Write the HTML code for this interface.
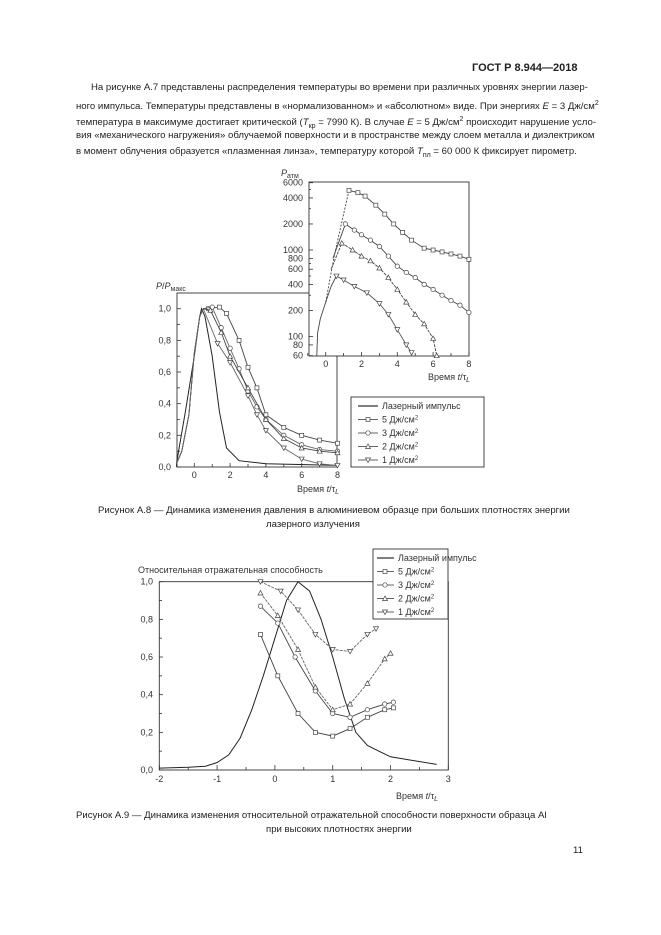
<!DOCTYPE html>
<html><head><meta charset="utf-8">
<style>
body{margin:0;background:#fff;}
#pg{position:relative;width:661px;height:935px;background:#fff;font-family:"Liberation Sans",sans-serif;color:#222;}
.t{position:absolute;font-size:9.6px;line-height:16px;white-space:nowrap;}
svg{position:absolute;left:0;top:0;}
svg text{font-family:"Liberation Sans",sans-serif;font-size:9px;fill:#333;}
</style></head><body><div id="pg">
<div class="t" style="left:472px;top:60px;font-size:11px;font-weight:bold;">ГОСТ Р 8.944—2018</div>
<div class="t" style="left:91px;top:80px;">На рисунке А.7 представлены распределения температуры во времени при различных уровнях энергии лазер-</div>
<div class="t" style="left:76px;top:96px;">ного импульса. Температуры представлены в «нормализованном» и «абсолютном» виде. При энергиях <i>E</i> = 3 Дж/см<sup style="font-size:7px">2</sup></div>
<div class="t" style="left:76px;top:112px;">температура в максимуме достигает критической (<i>T</i><sub style="font-size:7px">кр</sub> = 7990 К). В случае <i>E</i> = 5 Дж/см<sup style="font-size:7px">2</sup> происходит нарушение усло-</div>
<div class="t" style="left:76px;top:128px;">вия «механического нагружения» облучаемой поверхности и в пространстве между слоем металла и диэлектриком</div>
<div class="t" style="left:76px;top:144px;">в момент облучения образуется «плазменная линза», температуру которой <i>T</i><sub style="font-size:7px">пл</sub> = 60 000 К фиксирует пирометр.</div>
<div class="t" style="left:98px;top:503px;">Рисунок А.8 — Динамика изменения давления в алюминиевом образце при больших плотностях энергии</div>
<div class="t" style="left:266px;top:517px;">лазерного излучения</div>
<div class="t" style="left:76px;top:808px;">Рисунок А.9 — Динамика изменения относительной отражательной способности поверхности образца Al</div>
<div class="t" style="left:266px;top:822px;">при высоких плотностях энергии</div>
<div class="t" style="left:573px;top:843px;">11</div>
<svg id="s" width="661" height="935" viewBox="0 0 661 935"></svg>
</div>
<script>
var S=document.getElementById('s'),h='';
function P(pts,fx,fy,st){var d=pts.map(function(p){return fx(p[0]).toFixed(1)+','+fy(p[1]).toFixed(1)}).join(' ');
h+='<polyline points="'+d+'" fill="none" stroke="'+(st.c||'#444')+'" stroke-width="'+(st.w||0.9)+'"'+(st.da?' stroke-dasharray="'+st.da+'"':'')+'/>';
if(st.m)pts.forEach(function(p,i){if(!(st.skip&&i<st.skip))M(fx(p[0]),fy(p[1]),st.m);});}
function M(x,y,m){if(m=='s')h+='<rect x="'+(x-2)+'" y="'+(y-2)+'" width="4" height="4" fill="#fff" stroke="#444" stroke-width="0.7"/>';
else if(m=='o')h+='<circle cx="'+x+'" cy="'+y+'" r="2.2" fill="#fff" stroke="#444" stroke-width="0.7"/>';
else if(m=='u')h+='<polygon points="'+x+','+(y-2.5)+' '+(x-2.5)+','+(y+2)+' '+(x+2.5)+','+(y+2)+'" fill="#fff" stroke="#444" stroke-width="0.7"/>';
else h+='<polygon points="'+x+','+(y+2.5)+' '+(x-2.5)+','+(y-2)+' '+(x+2.5)+','+(y-2)+'" fill="#fff" stroke="#444" stroke-width="0.7"/>';}
function T(x,y,s,a,sz){h+='<text x="'+x+'" y="'+y+'"'+(a?' text-anchor="'+a+'"':'')+(sz?' style="font-size:'+sz+'px"':'')+'>'+s+'</text>';}
function L(a,b,c,d,w){h+='<line x1="'+a+'" y1="'+b+'" x2="'+c+'" y2="'+d+'" stroke="#333" stroke-width="'+(w||0.8)+'"/>';}
// ---- top main chart
var ax=function(t){return 194.3+17.9*t}, ay=function(v){return 467-158.3*v};
h+='<rect x="177" y="293" width="160" height="174" fill="#fff" stroke="#333" stroke-width="0.9"/>';
for(var v=0;v<=10;v++){var y=ay(v/10);L(177,y,v%2?180:181,y);if(v%2==0)T(171,y+3,(v/10).toFixed(1).replace('.',','),'end');}
for(var t=-1;t<=8;t++){var x=ax(t);L(x,467,x,t%2?464:463);if(t%2==0)T(x,478,t,'middle');}
T(156,289,'<tspan font-style="italic">P</tspan>/<tspan font-style="italic">P</tspan><tspan style="font-size:7px" dy="2">макс</tspan>');
T(297,492,'Время <tspan font-style="italic">t</tspan>/τ<tspan style="font-size:7px" dy="2" font-style="italic">L</tspan>','start');
var rise=[[-1,0.02],[-0.7,0.1],[-0.3,0.33],[0,0.72],[0.3,0.95],[0.5,1.0]];
P([[-1,0.02],[-0.5,0.35],[0,0.7],[0.3,0.95],[0.4,1],[0.6,0.95],[1,0.7],[1.4,0.35],[1.8,0.12],[2.5,0.04],[4,0.02],[8,0.01]],ax,ay,{c:'#222',w:1});
P(rise.concat([[0.8,1.0],[1.4,1.01],[1.8,0.97],[2.5,0.8],[3,0.63],[3.5,0.5],[4,0.33],[5,0.25],[6,0.2],[7,0.17],[8,0.15]]),ax,ay,{m:'s',skip:6});
P(rise.concat([[1,1.01],[1.5,0.88],[2,0.75],[2.5,0.62],[3,0.48],[3.5,0.38],[4,0.3],[5,0.2],[6,0.14],[7,0.11],[8,0.1]]),ax,ay,{m:'o',skip:6,c:'#666'});
P(rise.concat([[0.9,0.99],[1.5,0.85],[2,0.7],[3,0.5],[4,0.3],[5,0.18],[6,0.12],[7,0.1],[8,0.09]]),ax,ay,{m:'u',skip:6});
P(rise.concat([[1.3,0.78],[2,0.66],[3,0.45],[3.5,0.33],[4,0.23],[5,0.12],[6,0.05],[7,0.02],[8,0.01]]),ax,ay,{m:'d',skip:6,c:'#666'});
// ---- inset
var bx=function(t){return 325.7+17.9*t}, by=function(p){return 182.7+86.5*(Math.log10(6000)-Math.log10(p))};
h+='<rect x="309" y="182" width="160" height="174" fill="#fff" stroke="#333" stroke-width="0.9"/>';
[6000,4000,2000,1000,800,600,400,200,100,80,60].forEach(function(p){var y=by(p);L(309,y,313,y);T(303,y+3,p,'end');});
[300,500,700,3000,5000].forEach(function(p){var y=by(p);L(309,y,311,y);});
for(var t=-1;t<=8;t++){var x=bx(t);L(x,356,x,t%2?353:352);if(t%2==0)T(x,367,t,'middle');}
T(281,176,'<tspan font-style="italic">P</tspan><tspan style="font-size:7px" dy="2">атм</tspan>');
T(428,380,'Время <tspan font-style="italic">t</tspan>/τ<tspan style="font-size:7px" dy="2" font-style="italic">L</tspan>');
P([[-0.5,60],[-0.45,110],[-0.3,160],[0,250],[0.3,380],[0.6,500]],bx,by,{c:'#444'});
P([[0,250],[0.5,900],[1.3,4900]],bx,by,{da:'2,1.5'});
P([[1.3,4900],[1.8,4600],[2.2,4200],[2.8,3300],[3.3,2600],[3.8,2000],[4.3,1600],[4.8,1300],[5.5,1050],[6,1000],[6.5,950],[7,900],[7.5,850],[8,780]],bx,by,{m:'s'});
P([[0.4,800],[1.1,2000],[1.6,1700],[2,1500],[2.5,1300],[3,1100],[3.5,850],[4,650],[4.5,550],[5,480],[5.5,400],[6,350],[6.5,300],[7,260],[7.5,230],[8,190]],bx,by,{m:'o',skip:1});
P([[0.3,600],[0.9,1200],[1.5,1000],[2,850],[2.5,750],[3,620],[3.5,480],[4,350],[4.5,250],[5,180],[5.5,140],[6,95],[6.2,60]],bx,by,{m:'u',skip:1,da:'3,1'});
P([[0.6,500],[1,450],[1.6,380],[2.3,320],[3,240],[3.5,180],[4,120],[4.5,80],[4.8,65]],bx,by,{m:'d',c:'#555'});
// legend 1
h+='<rect x="351" y="397" width="133" height="70" fill="#fff" stroke="#333" stroke-width="0.9"/>';
var lg=[['Лазерный импульс',''],['5 Дж/см<tspan dy="-3" style="font-size:6px">2</tspan>','s'],['3 Дж/см<tspan dy="-3" style="font-size:6px">2</tspan>','o'],['2 Дж/см<tspan dy="-3" style="font-size:6px">2</tspan>','u'],['1 Дж/см<tspan dy="-3" style="font-size:6px">2</tspan>','d']];
lg.forEach(function(e,i){var y=406+i*13.5;L(358,y,378,y,i?0.8:1.2);if(e[1])M(368,y,e[1]);T(382,y+3,e[0]);});
// ---- bottom chart
var cx=function(t){return 159.3+57.8*(t+2)}, cy=function(v){return 770-188.3*v};
h+='<rect x="159.3" y="581.7" width="289" height="188.3" fill="none" stroke="#333" stroke-width="0.9"/>';
for(var v=0;v<=10;v++){var y=cy(v/10);L(159.3,y,v%2?162:163,y);if(v%2==0)T(153,y+3,(v/10).toFixed(1).replace('.',','),'end');}
for(var t=-4;t<=6;t++){var x=cx(t/2);L(x,770,x,t%2?767:765);if(t%2==0)T(x,782,t/2,'middle');}
T(138,573,'Относительная отражательная способность');
T(396,799,'Время <tspan font-style="italic">t</tspan>/τ<tspan style="font-size:7px" dy="2" font-style="italic">L</tspan>');
P([[-2,0.01],[-1.5,0.015],[-1.2,0.02],[-1,0.04],[-0.8,0.08],[-0.6,0.17],[-0.4,0.32],[-0.2,0.5],[0,0.7],[0.2,0.9],[0.4,1],[0.6,0.95],[0.8,0.8],[1,0.6],[1.2,0.38],[1.4,0.2],[1.6,0.13],[2,0.07],[2.4,0.05],[2.8,0.03]],cx,cy,{c:'#222',w:1});
P([[-0.25,0.72],[0.05,0.5],[0.4,0.3],[0.7,0.2],[1,0.18],[1.3,0.22],[1.6,0.28],[1.9,0.32],[2.05,0.33]],cx,cy,{m:'s'});
P([[-0.25,0.87],[0.05,0.78],[0.35,0.6],[0.7,0.42],[1,0.3],[1.3,0.28],[1.6,0.32],[1.9,0.35],[2.05,0.36]],cx,cy,{m:'o'});
P([[-0.25,0.94],[0.05,0.82],[0.4,0.64],[0.7,0.44],[1,0.32],[1.3,0.35],[1.6,0.46],[1.9,0.59],[2,0.62]],cx,cy,{m:'u',c:'#666',da:'3,1'});
P([[-0.25,1.0],[0.1,0.95],[0.4,0.85],[0.7,0.72],[1,0.64],[1.3,0.63],[1.6,0.72],[1.75,0.75]],cx,cy,{m:'d',c:'#666',da:'3,1'});
h+='<rect x="373" y="549" width="75" height="70" fill="#fff" stroke="#333" stroke-width="0.9"/>';
lg.forEach(function(e,i){var y=558+i*13.5;L(377,y,394,y,i?0.8:1.2);if(e[1])M(385,y,e[1]);T(398,y+3,e[0]);});
S.innerHTML=h;
</script>
</body></html>
